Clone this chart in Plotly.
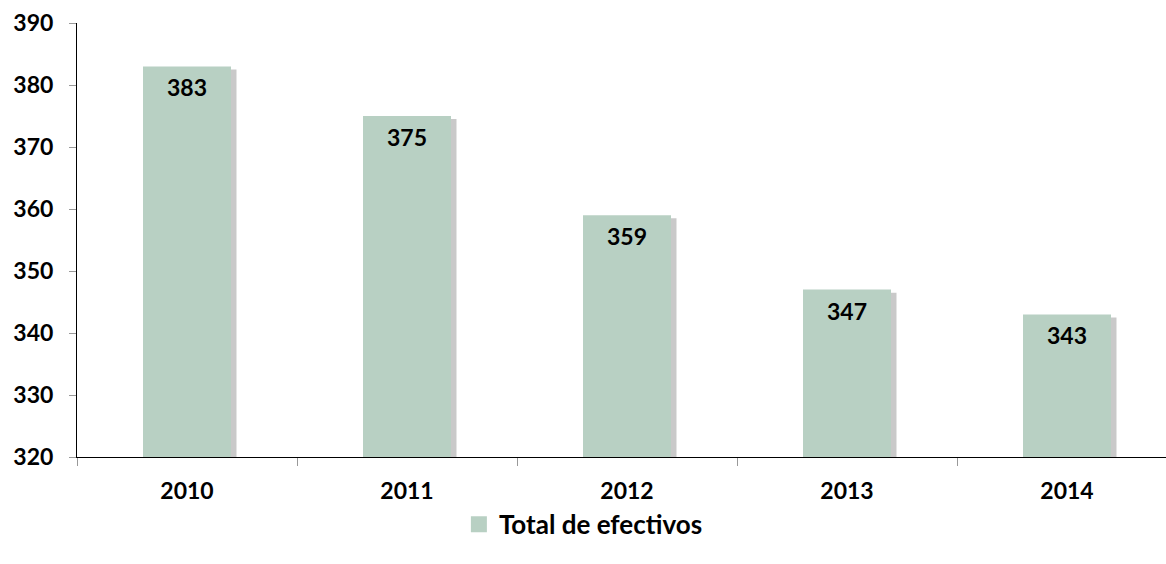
import plotly.graph_objects as go

years = ["2010", "2011", "2012", "2013", "2014"]
efectivos = [383, 375, 359, 347, 343]

axis_floor = 320
bar_color = "#b8d0c3"
font_family = "Lato, 'Open Sans', sans-serif"

fig = go.Figure()

# soft drop shadow on the right of each column
fig.add_trace(go.Bar(
    x=years, y=[v - axis_floor - 0.5 for v in efectivos], base=axis_floor,
    width=0.4, offset=-0.175,
    marker=dict(color="rgba(120,120,120,0.40)", line=dict(width=0)),
    showlegend=False, hoverinfo="skip",
))

fig.add_trace(go.Bar(
    x=years, y=[v - axis_floor for v in efectivos], base=axis_floor,
    name="Total de efectivos",
    width=0.4, offset=-0.2,
    marker=dict(color=bar_color, line=dict(width=0)),
    showlegend=False,
))

# larger square swatch for the legend entry
fig.add_trace(go.Scatter(
    x=[None], y=[None], mode="markers", name="Total de efectivos",
    marker=dict(symbol="square", size=18, color=bar_color),
))

# value labels just under the top of each column (category index on x)
for i, v in enumerate(efectivos):
    fig.add_annotation(
        x=i, y=v, xref="x", yref="y", text=str(v), showarrow=False,
        yanchor="top", yshift=-5,
        font=dict(family=font_family, size=23, color="black", weight="bold"),
    )

fig.update_layout(
    width=1166, height=564,
    margin=dict(l=77, r=0, t=23, b=107),
    paper_bgcolor="white", plot_bgcolor="white",
    barmode="overlay",
    font=dict(family=font_family, size=23, color="black", weight="bold"),
    showlegend=True,
    legend=dict(orientation="h", x=0.465, xanchor="center", y=-0.155, yanchor="middle",
                font=dict(size=26, weight="bold"), itemwidth=30),
    xaxis=dict(
        type="category", range=[-0.5, 4.45], automargin=False,
        showline=True, linecolor="black", linewidth=1,
        ticks="outside", tickson="boundaries", ticklen=8, tickcolor="#999999",
        tickfont=dict(size=23, weight="bold"), ticklabelstandoff=13,
        showgrid=False,
    ),
    yaxis=dict(
        range=[320, 390], dtick=10, tick0=320, automargin=False,
        showline=True, linecolor="black", linewidth=1,
        ticks="outside", ticklen=7, tickcolor="#999999",
        tickfont=dict(size=23, weight="bold"), ticklabelstandoff=11,
        showgrid=False, zeroline=False,
    ),
)

fig.write_html("out.html")
